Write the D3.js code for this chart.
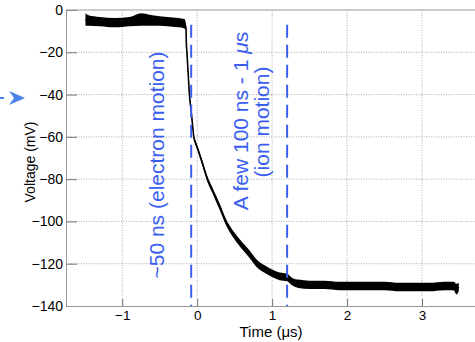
<!DOCTYPE html>
<html>
<head>
<meta charset="utf-8">
<script src="https://cdn.jsdelivr.net/npm/d3@7"></script>
<style>
  body { margin: 0; background: #fff; }
  svg { font-family: "Liberation Sans", Arial, Helvetica, sans-serif; }
</style>
</head>
<body>
<svg id="chart" width="475" height="342"></svg>
<script>
// signal trace: time (us), centre voltage (mV), noise half-width (mV)
var traceTime  = [-1.49, -1.45, -1.3, -1.1, -0.9, -0.75, -0.6, -0.4, -0.25, -0.17, -0.15, -0.145, -0.137, -0.12, -0.103, -0.08, -0.06, -0.045, -0.02, 0.02, 0.07, 0.137, 0.2, 0.25, 0.3, 0.38, 0.5, 0.6, 0.7, 0.8, 0.9, 1.0, 1.1, 1.2, 1.27, 1.35, 1.5, 1.7, 1.9, 2.1, 2.3, 2.5, 2.7, 2.9, 3.1, 3.3, 3.42, 3.46, 3.49];
var traceVolt  = [-4.5, -5, -5.5, -6, -5.5, -4.5, -5, -5.5, -6, -6.5, -8, -15, -20, -30, -40, -48, -55, -60, -63, -67, -72.5, -80, -85, -89, -93, -100, -107, -111.5, -115.5, -120, -122.5, -124.5, -126, -126.5, -128.5, -129.5, -130, -130, -130.5, -130.5, -130.5, -130.5, -131, -131, -131, -130.5, -130.5, -132, -131];
var traceNoise = [3, 2.5, 2.2, 2.2, 2.2, 3, 2.5, 2.2, 2.2, 2.2, 1.5, 1, 1, 1, 1, 1, 1, 1, 1, 1, 1.2, 1.3, 1.3, 1.4, 1.5, 1.5, 1.6, 1.7, 1.8, 1.8, 1.8, 1.8, 1.8, 1.8, 1.8, 2, 2, 2, 2, 2, 2, 2, 2, 2, 2, 2, 2, 2.5, 2];

// dashed markers (us) and the voltage span they cover (mV)
var markerTime = [-0.08, 1.2];
var markerSpan = [-7, -140];

// axis ticks
var xMajor = [-1, 0, 1, 2, 3];
var yMajor = [0, -20, -40, -60, -80, -100, -120, -140];

var svg = d3.select("#chart");
var margin = {top: 10, left: 66, right: 0, bottom: 36};
var width = 476, height = 342;

var x = d3.scaleLinear().domain([-1.75, 3.72]).range([margin.left, width - margin.right]);
var y = d3.scaleLinear().domain([-140, 0]).range([height - margin.bottom, margin.top]);

// grid
var grid = svg.append("g").attr("stroke", "#aaa").attr("stroke-dasharray", "1,1.5");
grid.selectAll(".gx").data(xMajor).join("line")
    .attr("x1", d => x(d)).attr("x2", d => x(d))
    .attr("y1", y(-140)).attr("y2", y(0));
grid.selectAll(".gy").data(yMajor.filter(d => d > -140 && d < 0)).join("line")
    .attr("x1", x(-1.75)).attr("x2", width)
    .attr("y1", d => y(d)).attr("y2", d => y(d));

// trace
var pts = traceTime.map((t, i) => ({t: t, v: traceVolt[i], n: traceNoise[i]}));
var band = d3.area().curve(d3.curveMonotoneX)
    .x(d => x(d.t))
    .y0(d => y(d.v - d.n))
    .y1(d => y(d.v + d.n));
svg.append("path").datum(pts).attr("d", band).attr("fill", "#000");
svg.append("path").datum(pts)
    .attr("d", d3.line().curve(d3.curveMonotoneX).x(d => x(d.t)).y(d => y(d.v)))
    .attr("fill", "none").attr("stroke", "#000").attr("stroke-width", 1.6);

// dashed markers
svg.selectAll(".marker").data(markerTime).join("line")
    .attr("x1", d => x(d)).attr("x2", d => x(d))
    .attr("y1", y(markerSpan[0])).attr("y2", y(markerSpan[1]))
    .attr("stroke", "#3a5ef0").attr("stroke-width", 2)
    .attr("stroke-dasharray", "13,7");

// annotations
var blue = "#3a5ef0";
svg.append("text")
    .attr("transform", "translate(164,165) rotate(-90)")
    .attr("text-anchor", "middle").attr("font-size", 21).attr("fill", blue)
    .text("~50 ns (electron motion)");
var t2 = svg.append("text")
    .attr("transform", "translate(247.5,121) rotate(-90)")
    .attr("text-anchor", "middle").attr("font-size", 21).attr("fill", blue);
t2.append("tspan").text("A few 100 ns - 1 ");
t2.append("tspan").attr("font-style", "italic").text("\u03bc");
t2.append("tspan").text("s");
svg.append("text")
    .attr("transform", "translate(268.5,122) rotate(-90)")
    .attr("text-anchor", "middle").attr("font-size", 21).attr("fill", blue)
    .text("(ion motion)");

// axes
var yAxisG = svg.append("g").attr("transform", `translate(${margin.left},0)`);
yAxisG.call(d3.axisLeft(y).tickValues(d3.range(-140, 1, 5)).tickSize(-6).tickFormat(""));
yAxisG.call(d3.axisLeft(y).tickValues(yMajor).tickSize(-11).tickPadding(3)
    .tickFormat(d => d === 0 ? "0" : "\u2212" + Math.abs(d)));
yAxisG.selectAll("text").attr("font-size", 14).attr("fill", "#000").attr("font-family", null);
yAxisG.selectAll("line").attr("stroke", "#777");
yAxisG.selectAll(".domain").attr("stroke", "#999");

var xAxisG = svg.append("g").attr("transform", `translate(0,${height - margin.bottom})`);
xAxisG.call(d3.axisBottom(x).tickValues(d3.range(-1.75, 3.72, 0.05)).tickSize(-2).tickFormat(""));
xAxisG.call(d3.axisBottom(x).tickValues(d3.range(-1.6, 3.72, 0.2)).tickSize(-4).tickFormat(""));
xAxisG.call(d3.axisBottom(x).tickValues(xMajor).tickSize(-7).tickPadding(4)
    .tickFormat(d => d < 0 ? "\u2212" + Math.abs(d) : d));
xAxisG.selectAll("text").attr("font-size", 13.5).attr("fill", "#000").attr("font-family", null);
xAxisG.selectAll("line").attr("stroke", "#777");
xAxisG.selectAll(".domain").attr("stroke", "#999");

svg.append("line").attr("x1", margin.left).attr("x2", width)
    .attr("y1", margin.top).attr("y2", margin.top).attr("stroke", "#999");

// titles
svg.append("text").attr("x", 271).attr("y", 337).attr("text-anchor", "middle")
    .attr("font-size", 15).text("Time (\u03bcs)");
svg.append("text").attr("transform", "translate(35,162) rotate(-90)")
    .attr("text-anchor", "middle").attr("font-size", 14).text("Voltage (mV)");

// arrow pointing in from the left edge
var arrowColor = "#4a84e8";
svg.append("line").attr("x1", 0).attr("x2", 4).attr("y1", 98).attr("y2", 98)
    .attr("stroke", arrowColor).attr("stroke-width", 2);
svg.append("path").attr("d", "M25,98 L9,91 L14,98 L9,105 Z").attr("fill", arrowColor);
</script>
</body>
</html>
